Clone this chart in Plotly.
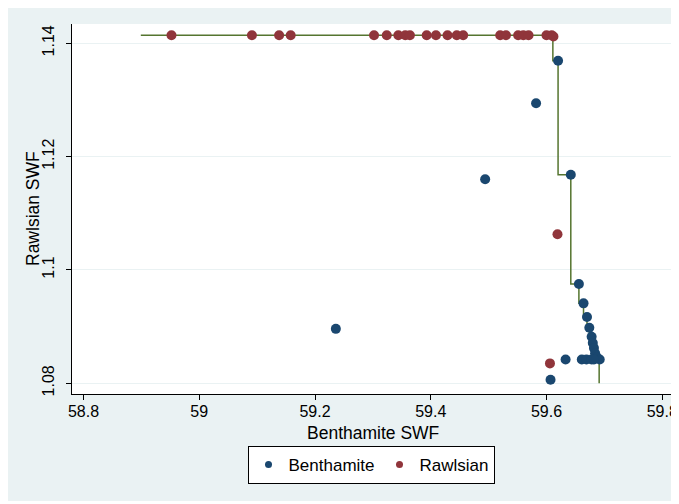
import plotly.graph_objects as go

# ---- data ----
benth_x = [59.236, 59.494, 59.582, 59.620, 59.642, 59.656, 59.664, 59.670, 59.674,
           59.678, 59.680, 59.682, 59.684, 59.687, 59.692, 59.633, 59.661, 59.669,
           59.678, 59.682, 59.607]
benth_y = [1.0896, 1.1160, 1.1294, 1.1369, 1.1168, 1.0975, 1.0941, 1.0917, 1.0898,
           1.0882, 1.0871, 1.0862, 1.0853, 1.0846, 1.0842, 1.0842, 1.0842, 1.0842,
           1.0842, 1.0842, 1.0806]

rawls_x = [58.952, 59.091, 59.138, 59.158, 59.302, 59.324, 59.344, 59.356, 59.364,
           59.393, 59.409, 59.429, 59.445, 59.456, 59.520, 59.530, 59.551, 59.560,
           59.569, 59.600, 59.609, 59.612, 59.619, 59.606]
rawls_y = [1.1414, 1.1414, 1.1414, 1.1414, 1.1414, 1.1414, 1.1414, 1.1414, 1.1414,
           1.1414, 1.1414, 1.1414, 1.1414, 1.1414, 1.1414, 1.1414, 1.1414, 1.1414,
           1.1414, 1.1414, 1.1414, 1.1412, 1.1063, 1.0835]

frontier_x = [58.899, 59.611, 59.620, 59.642, 59.656, 59.664, 59.670, 59.674, 59.678,
              59.680, 59.682, 59.684, 59.687, 59.691, 59.691]
frontier_y = [1.1414, 1.1414, 1.1369, 1.1168, 1.0975, 1.0941, 1.0917, 1.0898, 1.0882,
              1.0871, 1.0862, 1.0853, 1.0846, 1.0842, 1.0800]

x_ticks = [58.8, 59.0, 59.2, 59.4, 59.6, 59.8]
x_tick_labels = ["58.8", "59", "59.2", "59.4", "59.6", "59.8"]
y_ticks = [1.08, 1.10, 1.12, 1.14]
y_tick_labels = ["1.08", "1.1", "1.12", "1.14"]

NAVY = "#1a476f"
MAROON = "#90353b"
GREEN = "#55752f"
BG = "#eaf2f3"
FONT = "Liberation Sans, Arial, Helvetica, sans-serif"

fig = go.Figure()
fig.add_trace(go.Scatter(x=frontier_x, y=frontier_y, mode="lines",
                         line=dict(color=GREEN, width=1.5, shape="vh"),
                         showlegend=False, hoverinfo="skip"))
fig.add_trace(go.Scatter(x=benth_x, y=benth_y, mode="markers", name="Benthamite",
                         marker=dict(color=NAVY, size=10), showlegend=False))
fig.add_trace(go.Scatter(x=rawls_x, y=rawls_y, mode="markers", name="Rawlsian",
                         marker=dict(color=MAROON, size=10), showlegend=False))
# legend entries (smaller symbols as in the reference)
fig.add_trace(go.Scatter(x=[None], y=[None], mode="markers", name="Benthamite",
                         marker=dict(color=NAVY, size=7)))
fig.add_trace(go.Scatter(x=[None], y=[None], mode="markers", name="Rawlsian",
                         marker=dict(color=MAROON, size=7)))

# the page body adds an 8px offset, so the figure is laid out in (screen - 8) coords
W, H = 671, 496
L, R, T, B = 64, 6, 16, 110
pw, ph = W - L - R, H - T - B

def px(xp):
    return (xp - L) / pw

def py(yp):
    return (H - B - yp) / ph

fig.update_layout(
    width=W, height=H,
    margin=dict(l=L, r=R, t=T, b=B, pad=0, autoexpand=False),
    paper_bgcolor="white",
    plot_bgcolor="white",
    font=dict(family=FONT, size=17, color="black"),
    shapes=[
        dict(type="rect", xref="paper", yref="paper", x0=px(0), x1=px(668),
             y0=py(493), y1=py(0), fillcolor=BG, line=dict(width=0), layer="below"),
        dict(type="rect", xref="paper", yref="paper", x0=0, x1=1, y0=0, y1=1,
             fillcolor="white", line=dict(width=0), layer="below"),
    ],
    annotations=[
        dict(text="Benthamite SWF", xref="paper", yref="paper", x=0.5, y=py(425),
             xanchor="center", yanchor="middle", showarrow=False,
             font=dict(size=17.5)),
        dict(text="Rawlsian SWF", xref="paper", yref="paper", x=px(25), y=0.5,
             xanchor="center", yanchor="middle", showarrow=False, textangle=-90,
             font=dict(size=17.5)),
    ],
    legend=dict(orientation="h", xref="container", yref="container",
                x=363 / W, y=1 - 457 / H, xanchor="center", yanchor="middle",
                bgcolor="white", bordercolor="black", borderwidth=1,
                font=dict(size=17), itemwidth=30),
    xaxis=dict(range=[58.7801, 59.8186], tickvals=x_ticks, ticktext=x_tick_labels,
               showgrid=False, zeroline=False, showline=True, linecolor="black",
               linewidth=1, ticks="outside", ticklen=5, tickcolor="black",
               tickfont=dict(size=16), automargin=False, ticklabeloverflow="allow",
               ticklabelstandoff=-2),
    yaxis=dict(range=[1.0781, 1.1434], tickvals=y_ticks, ticktext=y_tick_labels,
               showgrid=True, gridcolor=BG, gridwidth=1, zeroline=False,
               showline=True, linecolor="black", linewidth=1, ticks="outside",
               ticklen=5, tickcolor="black", tickangle=-90, tickfont=dict(size=16),
               automargin=False, ticklabelstandoff=6),
)

fig.write_html("out.html")
